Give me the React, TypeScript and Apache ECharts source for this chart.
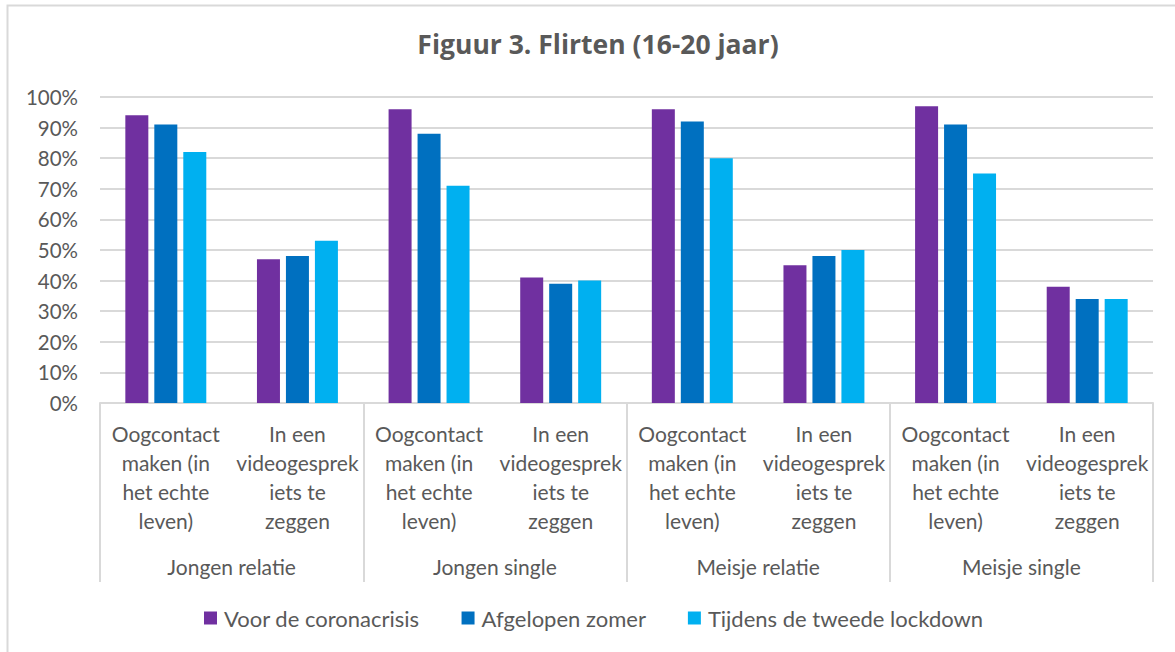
import React, { useEffect, useRef } from "react";
import * as echarts from "echarts";

const title = "Figuur 3. Flirten (16-20 jaar)";
const groups = ["Jongen relatie", "Jongen single", "Meisje relatie", "Meisje single"];
const items = [
  "Oogcontact\nmaken (in\nhet echte\nleven)",
  "In een\nvideogesprek\niets te\nzeggen",
];
const categories = groups.flatMap(() => items);
const seriesNames = ["Voor de coronacrisis", "Afgelopen zomer", "Tijdens de tweede lockdown"];
const voor = [94, 47, 96, 41, 96, 45, 97, 38];
const zomer = [91, 48, 88, 39, 92, 48, 91, 34];
const lockdown = [82, 53, 71, 40, 80, 50, 75, 34];
const colors = ["#7030A0", "#0070C0", "#00B0F0"];

const FONT = "Lato";
const TXT = "#595959";
const LINE = "#d9d9d9";

export default function App() {
  const ref = useRef<HTMLDivElement>(null);
  useEffect(() => {
    document.body.style.margin = "0";
    const chart = echarts.init(ref.current!, null, { renderer: "svg" });
    const values = [voor, zomer, lockdown];
    chart.setOption({
      animation: false,
      textStyle: { fontFamily: FONT, color: TXT },
      title: {
        text: title,
        left: 593,
        top: 25,
        textAlign: "center",
        textStyle: { fontFamily: "Open Sans", fontSize: 26.5, fontWeight: "bold", color: TXT },
      },
      graphic: [
        {
          type: "rect",
          shape: { x: 7.5, y: 5.5, width: 1300, height: 800 },
          style: { fill: "none", stroke: LINE, lineWidth: 2 },
          silent: true,
        },
      ],
      legend: {
        bottom: 23,
        left: 204,
        padding: 0,
        itemWidth: 13,
        itemHeight: 13,
        itemGap: 42,
        icon: "rect",
        data: seriesNames,
        textStyle: { fontFamily: FONT, fontSize: 22, color: TXT, padding: [0, 0, 0, 2] },
      },
      grid: { left: 100, right: 22, top: 97, bottom: 249 },
      xAxis: [
        {
          type: "category",
          data: categories,
          axisLine: { lineStyle: { color: LINE, width: 2 } },
          axisTick: { show: false },
          axisLabel: {
            interval: 0,
            margin: 16,
            fontFamily: FONT,
            fontSize: 21,
            lineHeight: 29,
            color: TXT,
            align: "center",
          },
        },
        {
          type: "category",
          data: groups,
          position: "bottom",
          axisLine: { show: false },
          axisTick: { show: true, length: 179, lineStyle: { color: LINE, width: 2 } },
          axisLabel: {
            interval: 0,
            margin: 153,
            fontFamily: FONT,
            fontSize: 21,
            color: TXT,
          },
        },
      ],
      yAxis: {
        type: "value",
        min: 0,
        max: 100,
        interval: 10,
        axisLine: { show: false },
        axisTick: { show: false },
        splitLine: { lineStyle: { color: LINE, width: 2 } },
        axisLabel: {
          formatter: "{value}%",
          margin: 22,
          fontFamily: FONT,
          fontSize: 20.5,
          color: TXT,
        },
      },
      series: seriesNames.map((name, i) => ({
        name,
        type: "bar",
        data: values[i],
        barWidth: 23,
        barGap: "26%",
        itemStyle: { color: colors[i] },
      })),
    });
    return () => chart.dispose();
  }, []);
  return <div ref={ref} style={{ width: 1175, height: 652 }} />;
}
